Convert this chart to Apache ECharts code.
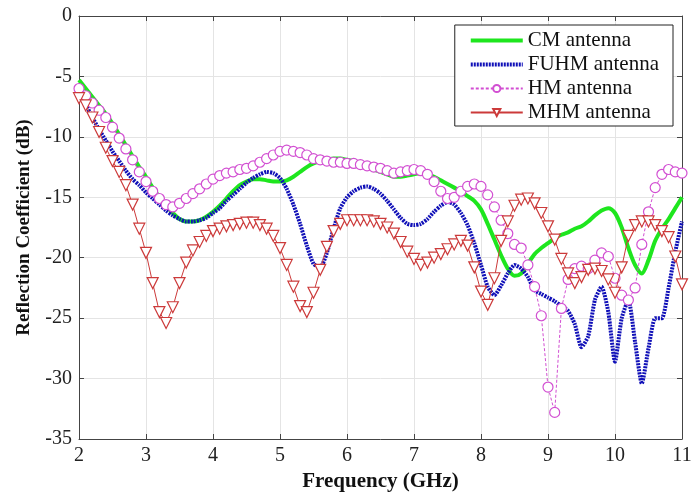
<!DOCTYPE html>
<html>
<head>
<meta charset="utf-8">
<script src="https://cdn.jsdelivr.net/npm/echarts@6/dist/echarts.min.js"></script>
<style>
  html, body { margin: 0; padding: 0; background: #fff; }
  #chart { width: 693px; height: 493px; }
</style>
</head>
<body>
<div id="chart"></div>
<script>
var freq = [2.0, 2.1, 2.2, 2.3, 2.4, 2.5, 2.6, 2.7, 2.8, 2.9,
  3.0, 3.1, 3.2, 3.3, 3.4, 3.5, 3.6, 3.7, 3.8, 3.9,
  4.0, 4.1, 4.2, 4.3, 4.4, 4.5, 4.6, 4.7, 4.8, 4.9,
  5.0, 5.1, 5.2, 5.3, 5.4, 5.5, 5.6, 5.7, 5.8, 5.9,
  6.0, 6.1, 6.2, 6.3, 6.4, 6.5, 6.6, 6.7, 6.8, 6.9,
  7.0, 7.1, 7.2, 7.3, 7.4, 7.5, 7.6, 7.7, 7.8, 7.9,
  8.0, 8.1, 8.2, 8.3, 8.4, 8.5, 8.6, 8.7, 8.8, 8.9,
  9.0, 9.1, 9.2, 9.3, 9.4, 9.5, 9.6, 9.7, 9.8, 9.9,
  10.0, 10.1, 10.2, 10.3, 10.4, 10.5, 10.6, 10.7, 10.8, 10.9, 11.0];

var cm = [-5.3, -6.0, -6.7, -7.4, -8.1, -8.9, -9.8, -10.7, -11.6, -12.5,
  -13.3, -14.2, -15.0, -15.7, -16.3, -16.8, -17.0, -17.0, -16.9, -16.6,
  -16.2, -15.7, -15.1, -14.5, -14.0, -13.7, -13.5, -13.5, -13.6, -13.7,
  -13.7, -13.6, -13.3, -12.9, -12.5, -12.2, -12.0, -11.9, -11.8, -11.8,
  -11.9, -12.0, -12.2, -12.4, -12.7, -12.9, -13.1, -13.3, -13.3, -13.2,
  -13.1, -13.0, -13.1, -13.3, -13.6, -13.9, -14.2, -14.5, -14.9, -15.3,
  -16.0, -17.2, -18.5, -19.8, -20.9, -21.5, -21.3, -20.5, -19.7, -19.2,
  -18.8, -18.4, -18.1, -17.9, -17.6, -17.4, -17.0, -16.5, -16.1, -15.9,
  -16.3, -17.5, -19.2, -20.6, -21.3, -20.2, -18.6, -17.6, -16.8, -15.9, -15.0];

var fuhm = [-6.2, -7.3, -8.4, -9.4, -10.3, -11.2, -12.0, -12.8, -13.5, -14.0,
  -14.6, -15.1, -15.6, -16.1, -16.5, -16.8, -17.0, -17.0, -16.9, -16.7,
  -16.3, -15.9, -15.3, -14.8, -14.3, -13.8, -13.4, -13.1, -12.9, -13.0,
  -13.4, -14.3, -15.6, -17.2, -19.0, -20.5, -20.8, -19.6, -17.6, -15.9,
  -15.0, -14.5, -14.2, -14.1, -14.3, -14.7, -15.3, -16.0, -16.7, -17.2,
  -17.3, -17.2, -16.8, -16.2, -15.7, -15.4, -15.6, -16.3, -17.3, -18.8,
  -20.6, -22.4, -23.1, -22.3, -21.3, -20.6, -20.9, -21.6, -22.7, -23.0,
  -23.3, -23.6, -24.0, -24.4, -25.5, -27.4, -26.5, -23.5, -22.4, -24.5,
  -28.6, -25.0, -23.5, -27.0, -30.4, -27.5, -25.0, -25.0, -22.5, -19.5, -17.0];

var hm = [-6.0, -6.6, -7.2, -7.8, -8.4, -9.2, -10.1, -11.0, -11.9, -12.9,
  -13.7, -14.5, -15.1, -15.6, -15.8, -15.5, -15.1, -14.7, -14.3, -13.9,
  -13.5, -13.2, -13.0, -12.9, -12.7, -12.6, -12.4, -12.1, -11.8, -11.5,
  -11.2, -11.1, -11.2, -11.3, -11.5, -11.8, -11.9, -12.0, -12.1, -12.1,
  -12.2, -12.2, -12.3, -12.4, -12.5, -12.6, -12.8, -13.0, -12.9, -12.8,
  -12.7, -12.8, -13.1, -13.7, -14.5, -15.1, -15.0, -14.5, -14.1, -13.9,
  -14.1, -14.8, -15.8, -16.9, -18.0, -18.9, -19.2, -20.6, -22.4, -24.8,
  -30.7, -32.8, -24.2, -21.8, -20.9, -20.7, -20.9, -20.2, -19.6, -19.9,
  -21.7, -23.1, -23.5, -22.5, -18.9, -16.2, -14.2, -13.1, -12.7, -12.9, -13.0];

var mhm = [-6.8, -7.4, -8.4, -9.6, -10.9, -12.0, -12.9, -14.0, -15.6, -17.6,
  -19.6, -22.1, -24.5, -25.4, -24.1, -22.1, -20.4, -19.4, -18.7, -18.2,
  -17.8, -17.6, -17.4, -17.3, -17.2, -17.1, -17.1, -17.3, -17.6, -18.2,
  -19.2, -20.6, -22.4, -24.0, -24.5, -22.9, -21.0, -19.1, -17.8, -17.2,
  -16.9, -16.9, -16.9, -16.9, -17.0, -17.2, -17.5, -18.0, -18.7, -19.5,
  -20.1, -20.6, -20.4, -20.0, -19.7, -19.3, -18.9, -18.6, -19.0, -20.8,
  -22.8, -23.9, -21.7, -18.6, -17.0, -15.7, -15.2, -15.1, -15.5, -16.3,
  -17.4, -18.5, -20.1, -21.3, -22.1, -21.6, -21.0, -20.9, -21.1, -21.8,
  -22.9, -20.8, -18.2, -17.3, -17.0, -17.0, -17.3, -17.8, -18.3, -19.9, -22.2];

var seriesNames = ['CM antenna', 'FUHM antenna', 'HM antenna', 'MHM antenna'];

function pairs(ys) {
  var out = [];
  for (var i = 0; i < ys.length; i++) {
    out.push([freq[i], ys[i]]);
  }
  return out;
}

var font = '"Liberation Serif", "Times New Roman", serif';
var chart = echarts.init(document.getElementById('chart'));

var sideAxis = {
  axisLine: { show: true, lineStyle: { color: '#444', width: 1 } },
  axisTick: { show: true, inside: true, length: 5, lineStyle: { color: '#444' } },
  axisLabel: { show: false },
  splitLine: { show: false }
};

chart.setOption({
  animation: false,
  backgroundColor: '#fff',
  grid: { left: 79, right: 11, top: 16, bottom: 54, outerBoundsMode: 'none' },
  legend: {
    // no marker on the plain line entries, like the original
    data: [
      { name: seriesNames[0], itemStyle: { opacity: 0 }, lineStyle: { width: 4 } },
      { name: seriesNames[1], itemStyle: { opacity: 0 }, lineStyle: { width: 4 } },
      seriesNames[2],
      seriesNames[3]
    ],
    orient: 'vertical',
    right: 20,
    top: 25,
    itemWidth: 52,
    itemHeight: 9,
    itemGap: 3,
    padding: [5, 14, 3, 14],
    backgroundColor: '#fff',
    borderColor: '#222',
    borderWidth: 1,
    selectedMode: false,
    textStyle: { fontFamily: font, fontSize: 21, color: '#111' }
  },
  xAxis: [
    {
      type: 'value', min: 2, max: 11, interval: 1,
      name: 'Frequency (GHz)', nameLocation: 'middle', nameGap: 28,
      nameTextStyle: { fontFamily: font, fontSize: 21, fontWeight: 'bold', color: '#111' },
      axisLine: { show: true, onZero: false, lineStyle: { color: '#444', width: 1 } },
      axisTick: { show: true, inside: true, length: 5, lineStyle: { color: '#444' } },
      axisLabel: { fontFamily: font, fontSize: 20, color: '#222', margin: 7 },
      splitLine: { show: true, lineStyle: { color: '#e4e4e4', width: 1 } }
    },
    Object.assign({ type: 'value', min: 2, max: 11, interval: 1, position: 'top' }, sideAxis)
  ],
  yAxis: [
    {
      type: 'value', min: -35, max: 0, interval: 5,
      name: 'Reflection Coefficient (dB)', nameLocation: 'middle', nameGap: 45,
      nameTextStyle: { fontFamily: font, fontSize: 19, fontWeight: 'bold', color: '#111' },
      axisLine: { show: true, onZero: false, lineStyle: { color: '#444', width: 1 } },
      axisTick: { show: true, inside: true, length: 5, lineStyle: { color: '#444' } },
      axisLabel: { fontFamily: font, fontSize: 20, color: '#222', margin: 7 },
      splitLine: { show: true, lineStyle: { color: '#e4e4e4', width: 1 } }
    },
    Object.assign({ type: 'value', min: -35, max: 0, interval: 5, position: 'right' }, sideAxis)
  ],
  series: [
    {
      name: seriesNames[0], type: 'line', data: pairs(cm),
      smooth: 0.3, showSymbol: false, symbol: 'none',
      lineStyle: { color: '#1ee61e', width: 4 },
      itemStyle: { color: '#1ee61e' },
      z: 3
    },
    {
      name: seriesNames[1], type: 'line', data: pairs(fuhm),
      smooth: 0.2, showSymbol: false, symbol: 'none',
      lineStyle: { color: '#1010b8', width: 4, type: [2, 1] },
      itemStyle: { color: '#1010b8' },
      z: 4
    },
    {
      name: seriesNames[2], type: 'line', data: pairs(hm),
      symbol: 'circle', symbolSize: 10,
      lineStyle: { color: '#d24fd2', width: 1, type: [3, 2] },
      itemStyle: { color: '#fff', borderColor: '#d24fd2', borderWidth: 1.2 },
      z: 5
    },
    {
      name: seriesNames[3], type: 'line', data: pairs(mhm),
      symbol: 'triangle', symbolSize: 11, symbolRotate: 180,
      lineStyle: { color: '#cc3a3a', width: 1 },
      itemStyle: { color: '#fff', borderColor: '#cc3a3a', borderWidth: 1.2 },
      z: 6
    }
  ]
});
</script>
</body>
</html>
